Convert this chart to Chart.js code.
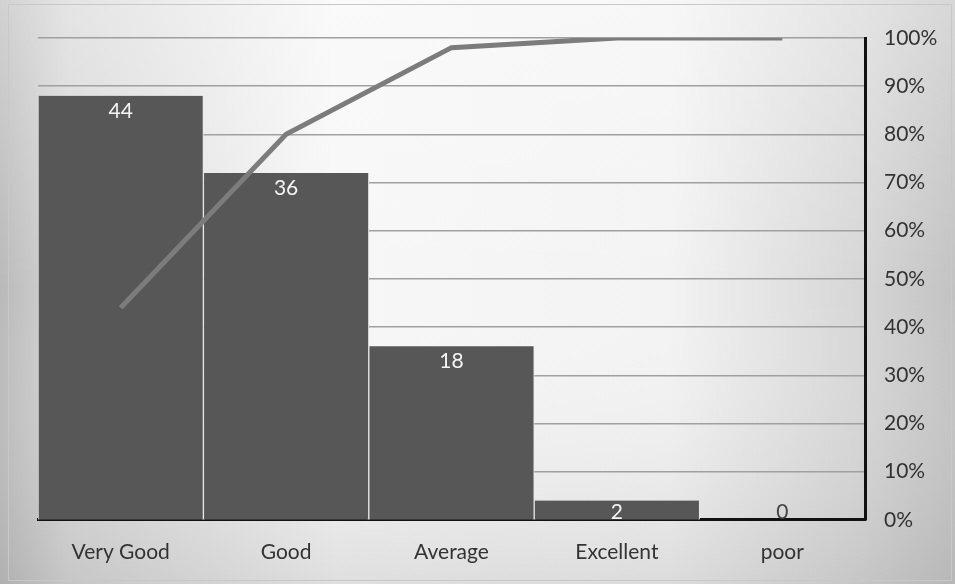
<!DOCTYPE html>
<html>
<head>
<meta charset="utf-8">
<script src="https://cdn.jsdelivr.net/npm/chart.js@4"></script>
<style>
  html, body { margin: 0; padding: 0; background: #fff; }
  #wrap { width: 955px; height: 584px; }
</style>
</head>
<body>
<div id="wrap"><canvas id="paretoChart" width="955" height="584"></canvas></div>
<script>
const categories = ['Very Good', 'Good', 'Average', 'Excellent', 'poor'];
const counts = [44, 36, 18, 2, 0];
const cumulativePct = [44, 80, 98, 100, 100];
const pctTicks = [0, 10, 20, 30, 40, 50, 60, 70, 80, 90, 100];

// grey scan-like backdrop
const backdrop = {
    id: 'backdrop',
    beforeDraw(chart) {
        const ctx = chart.ctx;
        const w = chart.width, h = chart.height;
        const g = ctx.createLinearGradient(0, 0, w, 0);
        g.addColorStop(0, '#b9b9b9');
        g.addColorStop(0.07, '#d6d6d6');
        g.addColorStop(0.35, '#f7f7f7');
        g.addColorStop(0.7, '#f3f3f3');
        g.addColorStop(0.9, '#d6d6d6');
        g.addColorStop(1, '#c2c2c2');
        ctx.save();
        ctx.fillStyle = g;
        ctx.fillRect(0, 0, w, h);
        const v = ctx.createLinearGradient(0, 0, 0, h);
        v.addColorStop(0, 'rgba(255,255,255,0.35)');
        v.addColorStop(0.5, 'rgba(255,255,255,0)');
        v.addColorStop(1, 'rgba(150,150,150,0.25)');
        ctx.fillStyle = v;
        ctx.fillRect(0, 0, w, h);
        ctx.strokeStyle = '#c8c8c8';
        ctx.lineWidth = 1;
        ctx.strokeRect(8.5, 4.5, w - 12, h - 8);
        ctx.restore();
    }
};

// value labels just inside the top of each bar
const barLabels = {
    id: 'barLabels',
    afterDatasetsDraw(chart) {
        const ctx = chart.ctx;
        const meta = chart.getDatasetMeta(1);
        ctx.save();
        ctx.font = '21px Lato';
        ctx.textAlign = 'center';
        ctx.textBaseline = 'middle';
        meta.data.forEach((bar, i) => {
            const v = counts[i];
            const y = Math.min(bar.y + 15, bar.base - 8);
            ctx.fillStyle = v > 0 ? '#f4f4f4' : '#444';
            ctx.fillText(String(v), bar.x, y);
        });
        ctx.restore();
    }
};

new Chart(document.getElementById('paretoChart').getContext('2d'), {
    type: 'bar',
    data: {
        labels: categories,
        datasets: [{
            type: 'line',
            label: 'Cumulative %',
            data: cumulativePct,
            yAxisID: 'y1',
            borderColor: '#7c7c7c',
            borderWidth: 5,
            pointRadius: 0,
            tension: 0,
            order: 0
        }, {
            label: 'Count',
            data: counts,
            yAxisID: 'y',
            backgroundColor: '#575757',
            borderColor: '#e8e8e8',
            borderWidth: { left: 1, right: 1, top: 0, bottom: 0 },
            categoryPercentage: 1.0,
            barPercentage: 1.0,
            order: 1
        }]
    },
    options: {
        responsive: false,
        animation: false,
        layout: { padding: { left: 38, top: 38, right: 16, bottom: 7 } },
        scales: {
            x: {
                grid: { display: false },
                border: { color: '#111', width: 3 },
                ticks: { color: '#333', font: { family: 'Lato', size: 21 }, padding: 12 }
            },
            y: {
                display: false,
                min: 0,
                max: 50
            },
            y1: {
                position: 'right',
                min: 0,
                max: 100,
                afterBuildTicks(axis) { axis.ticks = pctTicks.map(v => ({ value: v })); },
                afterFit(axis) { axis.width = 74; },
                grid: { color: '#a0a0a0', lineWidth: 1.5, drawTicks: false },
                border: { color: '#111', width: 3 },
                ticks: {
                    color: '#333',
                    padding: 19,
                    font: { family: 'Lato', size: 21 },
                    callback: v => v + '%'
                }
            }
        },
        plugins: {
            legend: { display: false },
            tooltip: { enabled: false }
        }
    },
    plugins: [backdrop, barLabels]
});
</script>
</body>
</html>
